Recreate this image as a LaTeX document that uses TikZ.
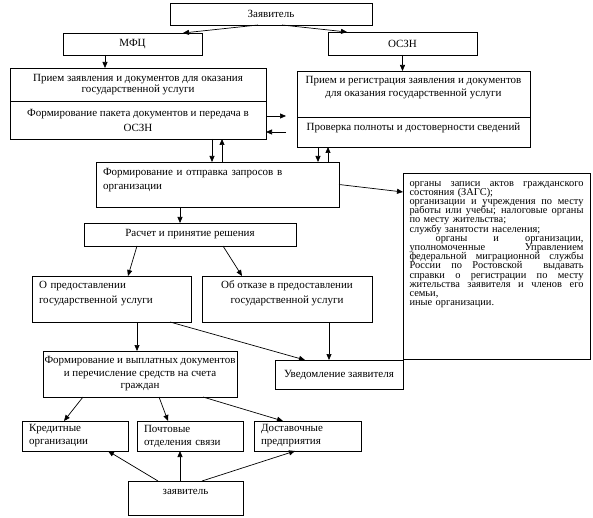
\documentclass[tikz,border=0pt]{standalone}
\usepackage{fontspec}
\setmainfont{Liberation Serif}
\usetikzlibrary{arrows.meta}
\newcommand\dn[1]{\rule[-#1]{0pt}{#1}}
\newcommand\jl[1]{\makebox[174pt][s]{\spaceskip=.25em plus 1em minus .08em\relax #1}}
\begin{document}
\begin{tikzpicture}[x=1pt,y=-1pt,
  box/.style={draw, line width=0.7pt, inner sep=0pt, outer sep=0pt, font=\fontsize{11}{13}\selectfont, align=center},
  lbox/.style={box, align=left, inner xsep=7pt},
  arr/.style={line width=0.7pt, -{Triangle[length=6pt,width=5pt]}},
  ]
\useasboundingbox (0,0) rectangle (593,518);
\fill[white] (0,0) rectangle (593,518);

\node[box, minimum width=202, minimum height=22] (zay) at (271,14) {Заявитель};
\node[box, minimum width=139, minimum height=22] (mfc) at (132.5,44) {МФЦ};
\node[box, minimum width=149, minimum height=23] (oszn) at (402.5,43.5) {ОСЗН};

\node[box, minimum width=256, minimum height=33, font=\fontsize{11}{11}\selectfont] (b1a) at (138,84.5)
  {Прием заявления и документов для оказания\\государственной услуги};
\node[box, minimum width=256, minimum height=38, font=\fontsize{11}{15}\selectfont] (b1b) at (138,120)
  {Формирование пакета документов и передача в\\ОСЗН};
\node[box, minimum width=233, minimum height=46] (b2a) at (413.5,94)
  {Прием и регистрация заявления и документов\\для оказания государственной услуги\dn{15pt}};
\node[box, minimum width=233, minimum height=30] (b2b) at (413.5,132)
  {Проверка полноты и достоверности сведений\dn{10pt}};

\node[lbox, minimum width=243, minimum height=45, text width=229pt, font=\fontsize{11}{14}\selectfont] (b3) at (217.5,184.5)
  {Формирование и отправка запросов в\\организации\dn{11pt}};

\node[box, minimum width=187, minimum height=186, align=left, text width=174pt, inner xsep=6.5pt,
      font=\fontsize{10.4}{9.2}\selectfont] (list) at (496.5,266)
  {\lineskiplimit=-20pt\relax
   \jl{органы записи актов гражданского}\\
   состояния (ЗАГС);\\
   \jl{организации и учреждения по месту}\\
   \jl{работы или учебы; налоговые органы}\\
   по месту жительства;\\
   службу занятости населения;\\
   \jl{\ органы и организации,}\\
   \jl{уполномоченные Управлением}\\
   \jl{федеральной миграционной службы}\\
   \jl{России по Ростовской \ выдавать}\\
   \jl{справки о регистрации по месту}\\
   \jl{жительства заявителя и членов его}\\
   семьи,\\
   иные организации.\dn{45pt}};

\node[box, minimum width=212, minimum height=23] (calc) at (190,234.5) {Расчет и принятие решения};

\node[lbox, minimum width=159, minimum height=46, text width=145pt, font=\fontsize{11}{15}\selectfont] (pred) at (111.5,299)
  {О предоставлении\\государственной услуги\dn{13pt}};
\node[box, minimum width=170, minimum height=46, font=\fontsize{11}{15}\selectfont] (otk) at (287,299)
  {Об отказе в предоставлении\\государственной услуги\dn{13pt}};

\node[box, minimum width=194, minimum height=46, font=\fontsize{11}{12.5}\selectfont] (vypl) at (140,374)
  {Формирование и выплатных документов\\и перечисление средств на счета\\граждан};
\node[box, minimum width=128, minimum height=29] (uved) at (339,374.5) {Уведомление заявителя};

\node[lbox, minimum width=106, minimum height=30, text width=92pt] (kred) at (75,436) {Кредитные\\организации};
\node[lbox, minimum width=106, minimum height=30, text width=92pt] (post) at (190,436) {Почтовые\\отделения связи};
\node[lbox, minimum width=107, minimum height=30, text width=93pt] (dost) at (307.5,436) {Доставочные\\предприятия};

\node[box, minimum width=115, minimum height=34] (zay2) at (185.5,498) {заявитель\dn{12pt}};

% connectors
\draw[arr] ([xshift=88pt]zay.south west) -- ([xshift=120pt]mfc.north west);
\draw[arr] ([xshift=112pt]zay.south west) -- ([xshift=19pt]oszn.north west);
\draw[arr] ([xshift=42pt]mfc.south west) -- ([xshift=95pt]b1a.north west);
\draw[arr] (oszn.south) -- (oszn.south |- b2a.north);
\draw[arr] ([yshift=-15pt]b1b.north east) -- ([xshift=-11pt,yshift=1pt]b2b.north west);
\draw[arr] ([xshift=-11pt]b2b.west) -- ([yshift=-12pt]b1b.east);
\draw[arr] ([xshift=202pt]b1b.south west) -- ([xshift=116pt]b3.north west);
\draw[arr] ([xshift=126pt]b3.north west) -- ([xshift=212pt]b1b.south west);
\draw[arr] ([xshift=21pt]b2b.south west) -- ([xshift=222pt]b3.north west);
\draw[arr] ([xshift=232pt]b3.north west) -- ([xshift=31pt]b2b.south west);
\draw[arr] (b3.east) -- ([yshift=-19pt]list.north west);
\draw[arr] ([xshift=84pt]b3.south west) -- ([xshift=96pt]calc.north west);
\draw[arr] ([xshift=53pt]calc.south west) -- ([xshift=96pt]pred.north west);
\draw[arr] ([xshift=139pt]calc.south west) -- ([xshift=40pt]otk.north west);
\draw[arr] ([xshift=105pt]pred.south west) -- ([xshift=94pt]vypl.north west);
\draw[arr] ([xshift=138pt]pred.south west) -- ([xshift=30pt]uved.north west);
\draw[arr] ([xshift=127pt]otk.south west) -- ([xshift=54pt]uved.north west);
\draw[arr] ([xshift=40pt]vypl.south west) -- ([xshift=42pt]kred.north west);
\draw[arr] ([xshift=116pt]vypl.south west) -- ([xshift=31pt]post.north west);
\draw[arr] ([xshift=160pt]vypl.south west) -- ([xshift=29pt]dost.north west);
\draw[arr] ([xshift=30pt]zay2.north west) -- ([xshift=86pt]kred.south west);
\draw[arr] ([xshift=52pt]zay2.north west) -- ([xshift=43pt]post.south west);
\draw[arr] ([xshift=74pt]zay2.north west) -- ([xshift=41pt]dost.south west);
\end{tikzpicture}
\end{document}
